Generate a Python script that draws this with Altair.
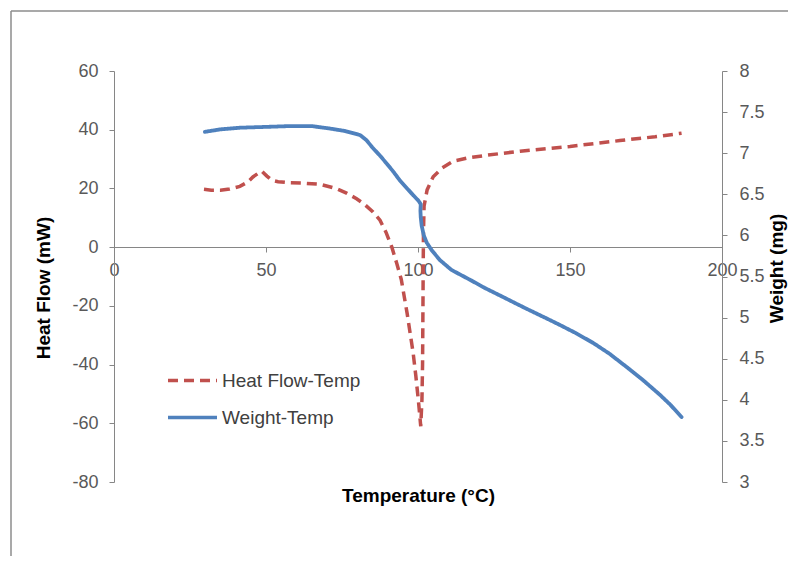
import altair as alt
import pandas as pd

# ---- data ----
hf_temp = [29.6, 32, 35, 38, 41.4, 44, 45.7, 47.5, 48.6, 50.3, 51.9, 54, 57.9, 62,
           67.8, 73.3, 76.5, 79.8, 82.5, 85.2, 87.5, 89.5, 91.4, 93, 94.5, 96.4, 98.4,
           99.3, 100.2, 100.9, 101.3, 101.5, 101.6, 101.7, 101.8, 102.0, 103, 105,
           108, 111.6, 117, 122.6, 133.6, 150, 166.4, 178, 186.7]
hf_values = [19.7, 19.4, 19.4, 19.8, 20.7, 22.2, 23.9, 25.2, 25.9, 24.2, 22.8, 22.3,
             21.9, 21.8, 21.4, 19.9, 18.4, 16.5, 14.5, 12, 9.2, 5, 0, -5.5, -11, -22.4,
             -36, -44, -53, -61, -52, -40, -25, -8, 5, 14, 19.5, 24, 27, 29.3, 30.5,
             31.3, 32.7, 34.3, 36.3, 37.6, 38.8]

w_temp = [29.9, 35, 41.4, 50, 57.9, 65, 71, 76, 81, 83, 85, 87.5, 89.8, 92, 94, 96.2,
          98.4, 100.2, 100.9, 100.8, 100.9, 101.2, 101.9, 102.9, 104.5, 107.2, 111,
          117.1, 122, 128, 135, 142.3, 146.7, 152, 157.7, 163, 168.6, 174, 179.6, 183,
          186.7]
w_values = [7.26, 7.29, 7.31, 7.32, 7.33, 7.33, 7.30, 7.27, 7.22, 7.16, 7.07, 6.97,
            6.87, 6.77, 6.67, 6.58, 6.49, 6.42, 6.38, 6.30, 6.22, 6.12, 6.00, 5.91,
            5.82, 5.70, 5.58, 5.46, 5.36, 5.25, 5.12, 4.99, 4.91, 4.81, 4.69, 4.56,
            4.40, 4.24, 4.06, 3.94, 3.79]

series_names = ["Heat Flow-Temp", "Weight-Temp"]
series_colors = ["#C0504D", "#4F81BD"]
left_ticks = [-80, -60, -40, -20, 0, 20, 40, 60]
right_ticks = [3, 3.5, 4, 4.5, 5, 5.5, 6, 6.5, 7, 7.5, 8]
x_ticks = [0, 50, 100, 150, 200]

df_hf = pd.DataFrame({"Temp": hf_temp, "HF": hf_values,
                      "idx": range(len(hf_temp)), "series": series_names[0]})
df_w = pd.DataFrame({"Temp": w_temp, "W": w_values,
                     "idx": range(len(w_temp)), "series": series_names[1]})

FONT = "Liberation Sans"
W, H = 608, 411
PAD = {"left": 106, "top": 63, "right": 66, "bottom": 74}

legend_kw = dict(title=None, orient="none", legendX=52, legendY=283,
                 padding=0, symbolType="stroke", symbolSize=2401,
                 symbolStrokeWidth=3.5, labelFontSize=19,
                 labelFont=FONT, labelColor="#404040",
                 labelOffset=3, rowPadding=-16)

color = alt.Color("series:N", scale=alt.Scale(domain=series_names, range=series_colors),
                  legend=alt.Legend(**legend_kw))
dash = alt.StrokeDash("series:N",
                      scale=alt.Scale(domain=series_names, range=[[10, 6], [1, 0]]),
                      legend=alt.Legend(**legend_kw))

x_enc = alt.X("Temp:Q", scale=alt.Scale(domain=[0, 200], nice=False),
              axis=alt.Axis(values=x_ticks, offset=-235, title="Temperature (°C)",
                            titleX=304, titleY=248, titleAlign="center",
                            titleBaseline="middle", labelPadding=9,
                            labelFlush=False, labelOverlap=False))

hf_line = alt.Chart(df_hf).mark_line(strokeWidth=3.5, strokeCap="butt").encode(
    x=x_enc,
    y=alt.Y("HF:Q", scale=alt.Scale(domain=[-80, 60], nice=False),
            axis=alt.Axis(orient="left", values=left_ticks, labelExpr="datum.value + ''",
                          title="Heat Flow (mW)", titleX=-70.5, titleY=216.5,
                          titleAngle=270, titleAlign="center", titleBaseline="middle",
                          labelPadding=11, labelFlush=False)),
    color=color, strokeDash=dash, order="idx:Q",
)

w_line = alt.Chart(df_w).mark_line(strokeWidth=3.8, strokeCap="round").encode(
    x=x_enc,
    y=alt.Y("W:Q", scale=alt.Scale(domain=[3, 8], nice=False),
            axis=alt.Axis(orient="right", values=right_ticks, labelExpr="datum.value + ''",
                          title="Weight (mg)", titleX=54, titleY=197,
                          titleAngle=270, titleAlign="center", titleBaseline="middle",
                          labelPadding=12, labelFlush=False)),
    color=color, strokeDash=dash, order="idx:Q",
)

frame_df = pd.DataFrame({"k": [0]})
frame_top = alt.Chart(frame_df).mark_rule(color="#8c8c8c", strokeWidth=1.5).encode(
    x=alt.value(-103), x2=alt.value(W + PAD["right"]), y=alt.value(-60))
frame_left = alt.Chart(frame_df).mark_rule(color="#8c8c8c", strokeWidth=1.5).encode(
    x=alt.value(-103), y=alt.value(-60), y2=alt.value(H + PAD["bottom"]))

chart = alt.layer(frame_top, frame_left, hf_line, w_line).resolve_scale(
    y="independent"
).properties(
    width=W, height=H, autosize=alt.AutoSizeParams(type="none"), padding=PAD,
    background="white",
).configure_view(stroke=None).configure_axis(
    grid=False, domainColor="#868686", tickColor="#868686", tickSize=5,
    labelFont=FONT, labelFontSize=18, labelColor="#595959",
    titleFont=FONT, titleFontSize=19, titleFontWeight="bold", titleColor="#000000",
)

chart.save("out.html", embed_options={"renderer": "svg", "actions": False})
